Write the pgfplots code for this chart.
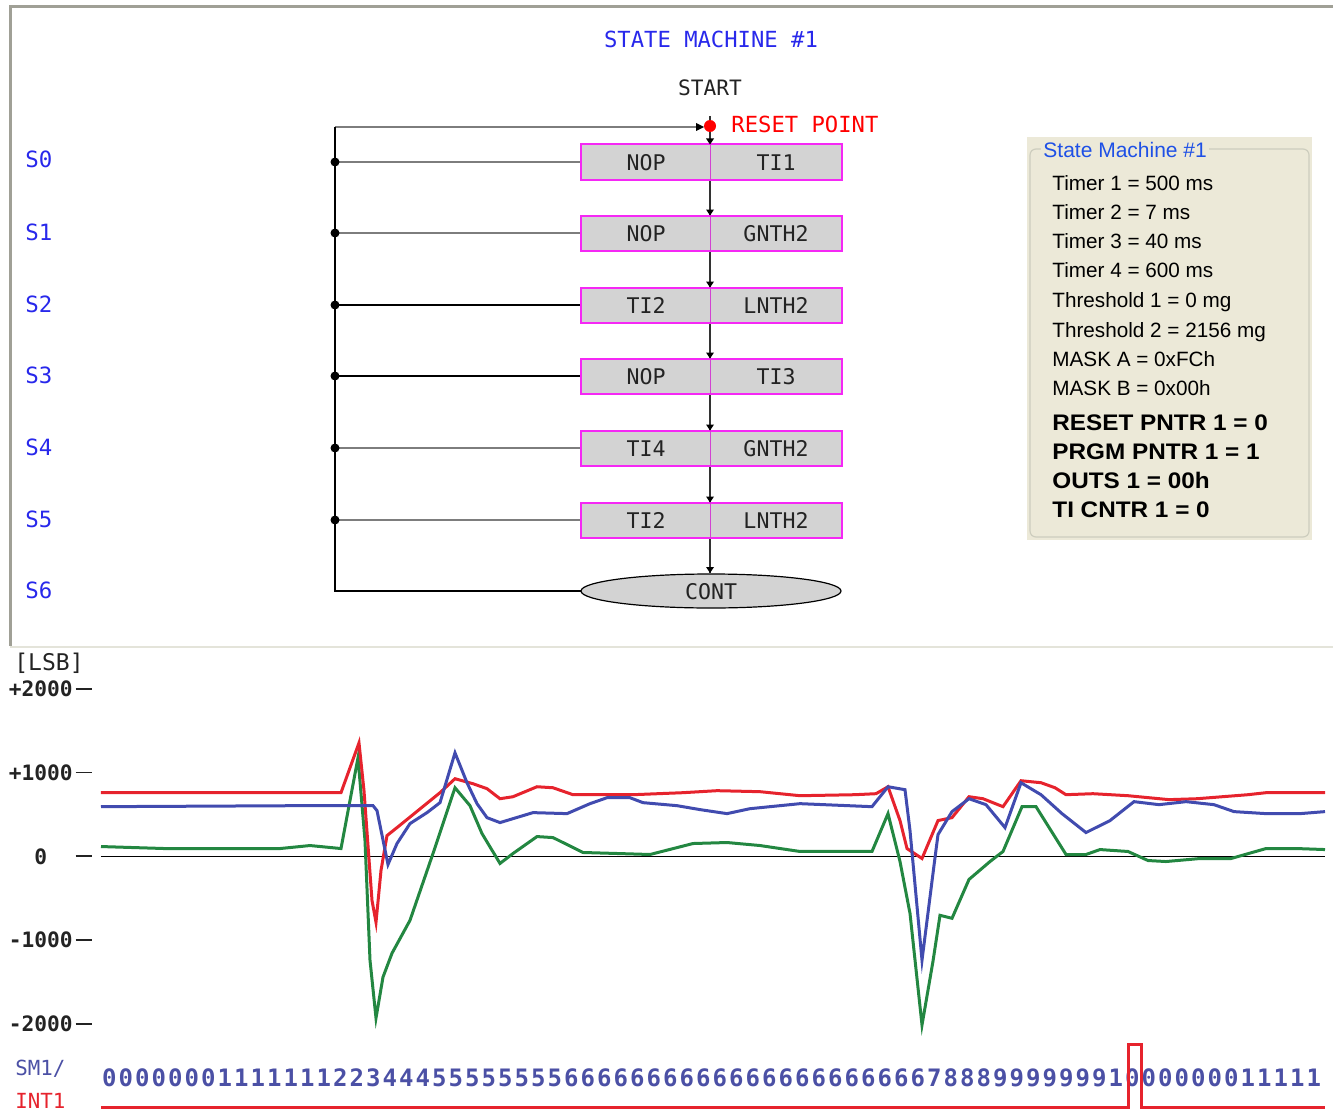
\documentclass[border=0pt]{standalone}
\usepackage{fontspec}
\setmainfont{Liberation Sans}
\newfontfamily\mono{DejaVu Sans Mono}
\newfontfamily\panelbold{Liberation Sans}[FakeStretch=1.08]
\usepackage{pgfplots}
\pgfplotsset{compat=1.18}
\definecolor{sblue}{RGB}{40,40,235}
\definecolor{pblue}{RGB}{30,80,230}
\definecolor{digblue}{RGB}{75,80,165}
\definecolor{dred}{RGB}{230,35,45}
\definecolor{dblue}{RGB}{65,75,175}
\definecolor{dgreen}{RGB}{35,135,65}
\definecolor{boxgray}{RGB}{211,211,211}
\definecolor{boxpink}{RGB}{245,40,245}
\definecolor{linegray}{RGB}{125,125,125}
\definecolor{framegray}{RGB}{160,160,150}
\definecolor{lightframe}{RGB}{228,228,218}
\definecolor{panelbg}{RGB}{236,233,216}
\definecolor{panelborder}{RGB}{205,205,190}
\definecolor{txtdark}{RGB}{35,35,35}
\newcommand\mfs[1]{\mono\fontsize{#1}{#1}\selectfont}
\newcommand\dash{\hspace{1.5pt}\rule[0.33em]{8pt}{0.9pt}}
\begin{document}
\begin{tikzpicture}[x=0.5pt,y=-0.5pt]
\useasboundingbox (0,0) rectangle (1333,1113);
\coordinate (axsw) at (101,1024);
% frame of the diagram area
\draw[framegray, line width=1.5pt] (10,646) -- (10,7) -- (1333,7);
\draw[lightframe, line width=1pt] (10,647) -- (1333,647);
% titles
\node[anchor=base, inner sep=0pt, text=sblue, font=\mfs{11.1pt}] at (711,48) {STATE MACHINE \#1};
\node[anchor=base, inner sep=0pt, text=txtdark, font=\mfs{10.6pt}] at (710,96) {START};
\node[anchor=base west, inner sep=0pt, text=red, font=\mfs{11.1pt}] at (731,133) {RESET POINT};
% state labels
\foreach \y/\s in {160/S0,232/S1,304/S2,375/S3,447/S4,519/S5,590/S6}
  \node[anchor=base west, inner sep=0pt, text=sblue, font=\mfs{11.2pt}] at (25,\y+8) {\s};
% center vertical line
\draw[black!80, line width=0.6pt] (710,116) -- (710,573);
% top return line
\draw[linegray, line width=1pt] (335,127) -- (702,127);
\fill[black] (704,127) -- (696,123) -- (696,131) -- cycle;
\draw[black, line width=1.1pt] (335,127) -- (335,591) -- (581,591);
% rows
\foreach \y/\l/\r/\c in {162/NOP/TI1/linegray, 233/NOP/GNTH2/linegray, 305/TI2/LNTH2/black, 376/NOP/TI3/black, 448/TI4/GNTH2/linegray, 520/TI2/LNTH2/linegray}{
  \draw[\c, line width=1pt] (335,\y) -- (581,\y);
  \fill[black] (335,\y) circle [radius=4.5];
  \filldraw[fill=boxgray, draw=boxpink, line width=1pt] (581,\y-17.5) rectangle (842,\y+17.5);
  \draw[boxpink!70!gray, line width=0.5pt] (710,\y-17.5) -- (710,\y+17.5);
  \node[anchor=base, inner sep=0pt, text=txtdark, font=\mfs{10.8pt}] at (646,\y+8) {\l};
  \node[anchor=base, inner sep=0pt, text=txtdark, font=\mfs{10.8pt}] at (776,\y+8) {\r};
  \fill[black] (706,\y-23.5) -- (714,\y-23.5) -- (710,\y-17.5) -- cycle;
}
\fill[black] (706,567) -- (714,567) -- (710,573) -- cycle;
% CONT ellipse
\filldraw[fill=boxgray, draw=black, line width=0.6pt] (711,591) ellipse [x radius=130, y radius=17];
\node[anchor=base, inner sep=0pt, text=txtdark, font=\mfs{10.8pt}] at (711,599) {CONT};
% reset dot
\fill[red] (710,126) circle [radius=6];
% right panel
\fill[panelbg] (1027,137) rectangle (1312,540);
\draw[panelborder, rounded corners=3pt, line width=0.6pt] (1030,149) rectangle (1309,537);
\node[anchor=base west, inner sep=1pt, fill=panelbg, text=pblue, font=\fontsize{10.5pt}{12pt}\selectfont] at (1041,157.5) {State Machine \#1};
\foreach \y/\t in {190.5/{Timer 1 = 500 ms}, 219.5/{Timer 2 = 7 ms}, 248.5/{Timer 3 = 40 ms}, 277.5/{Timer 4 = 600 ms}, 307.5/{Threshold 1 = 0 mg}, 337/{Threshold 2 = 2156 mg}, 366/{MASK A = 0xFCh}, 395/{MASK B = 0x00h}}
  \node[anchor=base west, inner sep=0pt, text=black, font=\fontsize{10.35pt}{12pt}\selectfont] at (1052,\y) {\t};
\foreach \y/\t in {430/{RESET PNTR 1 = 0}, 459/{PRGM PNTR 1 = 1}, 488/{OUTS 1 = 00h}, 517/{TI CNTR 1 = 0}}
  \node[anchor=base west, inner sep=0pt, text=black, font=\panelbold\bfseries\fontsize{11.25pt}{13pt}\selectfont] at (1052,\y) {\t};
% chart labels
\node[anchor=base west, inner sep=0pt, text=txtdark, font=\mfs{11.5pt}] at (14,670) {[LSB]};
\node[anchor=base west, inner sep=0pt, text=digblue, font=\mfs{10.4pt}] at (15,1075) {SM1/};
\node[anchor=base west, inner sep=0pt, text=dred, font=\mfs{10.4pt}] at (15,1108) {INT1};
% state digits
\foreach \c [count=\i from 0] in {0,0,0,0,0,0,0,1,1,1,1,1,1,1,2,2,3,4,4,4,5,5,5,5,5,5,5,5,6,6,6,6,6,6,6,6,6,6,6,6,6,6,6,6,6,6,6,6,6,6,7,8,8,8,9,9,9,9,9,9,9,1,0,0,0,0,0,0,0,1,1,1,1,1}
  \node[anchor=base, inner sep=0pt, text=digblue, font=\mono\bfseries\fontsize{12pt}{12pt}\selectfont] at ({101+16.5*\i+8.25},1086) {\c};
% the chart
\begin{scope}[x=1cm,y=1cm]
\begin{axis}[at={(axsw)}, anchor=south west, scale only axis,
  width=612pt, height=167.5pt,
  xmin=101, xmax=1325, ymin=-2000, ymax=2000, clip=false,
  axis line style={draw=none}, xtick=\empty,
  ytick={-2000,-1000,0,1000,2000},
  yticklabels={{-2000\dash},{-1000\dash},{\phantom{+2}0\phantom{00}\dash},{+1000\dash},{+2000\dash}},
  tick style={draw=none},
  yticklabel style={anchor=east, inner sep=0pt, xshift=-4.5pt, text=txtdark, font=\mono\bfseries\fontsize{10.6pt}{12pt}\selectfont}]
\addplot[black, line width=0.75pt] coordinates {(101,0) (1325,0)};
% green
\addplot[dgreen, line width=1.5pt] coordinates {
(101,119) (165,95) (280,95) (310,131) (341,95) (358,1179) (365,190) (370,-1238) (376,-1929)
(383,-1440) (392,-1155) (410,-762) (433,36) (455,821) (470,607) (482,274) (500,-83) (513,36)
(537,238) (553,226) (583,48) (617,36) (650,24) (693,155) (727,167) (760,131) (800,60) (872,60)
(888,512) (900,-60) (910,-679) (922,-2012) (933,-1250) (940,-702) (952,-738) (969,-274) (990,-60)
(1003,60) (1022,595) (1036,595) (1066,24) (1086,24) (1100,83) (1128,60) (1148,-48) (1166,-60)
(1200,-24) (1231,-24) (1266,95) (1297,95) (1325,83)};
% red
\addplot[dred, line width=1.5pt] coordinates {
(101,762) (341,762) (359,1357) (364,786) (372,-524) (376,-786) (381,-167) (387,250) (397,345)
(440,762) (455,929) (473,869) (487,810) (500,690) (513,714) (537,833) (553,821) (573,738)
(633,738) (683,762) (717,786) (760,774) (800,726) (855,738) (876,750) (888,833) (900,429)
(907,95) (922,-24) (938,429) (952,464) (969,714) (983,690) (1003,595) (1021,905) (1041,881)
(1055,821) (1066,738) (1093,750) (1128,726) (1169,679) (1197,690) (1248,738) (1266,762) (1325,762)};
% blue
\addplot[dblue, line width=1.5pt] coordinates {
(101,595) (300,607) (373,607) (377,548) (388,-95) (397,155) (410,393) (427,524) (440,643)
(455,1238) (467,881) (477,631) (487,464) (500,405) (513,452) (533,524) (567,512) (590,631)
(607,702) (630,702) (643,643) (677,607) (700,560) (727,512) (750,571) (800,631) (872,595)
(888,833) (905,798) (910,310) (922,-1238) (934,-107) (938,262) (952,536) (969,690) (986,619)
(1005,345) (1021,881) (1041,738) (1062,512) (1086,286) (1110,429) (1134,655) (1159,619)
(1186,655) (1214,619) (1234,536) (1266,512) (1300,512) (1325,536)};
% INT1 signal
\addplot[dred, line width=1.5pt] coordinates {(101,-3000) (1128,-3000) (1128,-2250) (1141,-2250) (1141,-3000) (1325,-3000)};
\end{axis}
\end{scope}
\end{tikzpicture}
\end{document}
